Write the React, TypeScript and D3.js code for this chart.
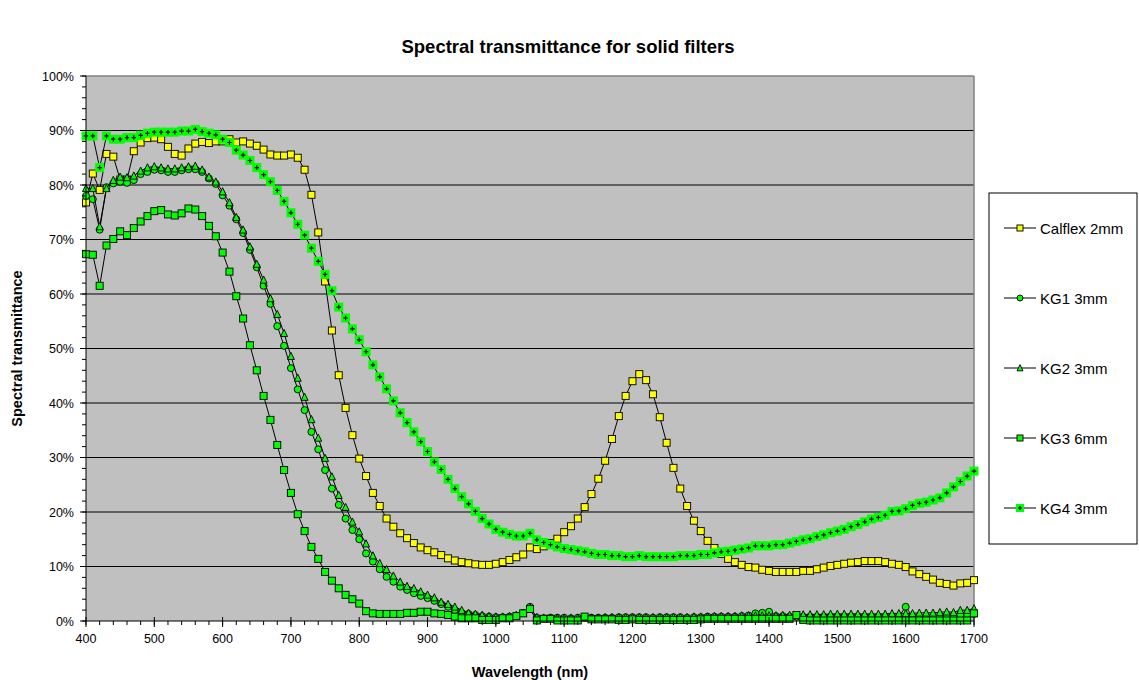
import React from "react";
import * as d3 from "d3";

const wavelengths: number[] = d3.range(400, 1701, 10);

const calflex: number[] = [
  76.8, 82.1, 79.1, 85.7, 85.2, 81.0, 81.0, 86.2, 87.8, 88.6,
  88.7, 88.4, 87.0, 85.7, 85.4, 86.7, 87.6, 87.9, 87.7, 88.0,
  88.0, 88.4, 87.8, 88.0, 87.6, 87.2, 86.5, 85.6, 85.4, 85.4,
  85.6, 85.0, 82.8, 78.2, 71.3, 62.3, 53.3, 45.1, 39.1, 34.1,
  29.8, 26.6, 23.5, 21.1, 18.8, 17.3, 16.1, 15.2, 14.3, 13.5,
  13.0, 12.6, 12.1, 11.5, 11.1, 10.8, 10.6, 10.4, 10.3, 10.3,
  10.5, 10.8, 11.2, 11.7, 12.2, 13.5, 13.2, 13.7, 14.3, 15.1,
  16.3, 17.4, 18.8, 20.9, 23.3, 26.1, 29.4, 33.4, 37.6, 41.3,
  44.0, 45.3, 44.2, 41.6, 37.4, 32.7, 28.1, 24.3, 21.1, 18.4,
  16.5, 14.7, 13.4, 12.3, 11.4, 10.8, 10.3, 9.9, 9.8, 9.4,
  9.2, 9.0, 9.0, 9.0, 9.0, 9.2, 9.2, 9.5, 9.8, 10.1,
  10.3, 10.5, 10.7, 10.8, 11.0, 11.0, 11.0, 10.8, 10.5, 10.3,
  9.9, 9.1, 8.6, 8.1, 7.6, 7.0, 6.8, 6.5, 6.9, 7.0,
  7.5,
];

const kg1: number[] = [
  78.0, 77.4, 71.8, 79.6, 80.3, 80.6, 80.4, 80.9, 82.0, 82.4,
  82.8, 82.7, 82.4, 82.4, 82.7, 82.9, 82.9, 82.4, 81.2, 80.2,
  78.1, 76.2, 73.7, 71.2, 68.1, 64.9, 61.5, 58.2, 54.1, 50.5,
  46.4, 42.5, 38.7, 34.7, 31.5, 27.7, 24.3, 21.3, 18.8, 16.7,
  15.0, 12.4, 10.9, 9.5, 8.1, 7.2, 6.3, 5.7, 5.1, 4.6,
  4.2, 3.7, 3.1, 2.6, 2.0, 1.5, 1.3, 1.1, 0.9, 0.8,
  0.7, 0.7, 0.8, 1.0, 1.5, 2.6, 0.6, 0.5, 0.6, 0.6,
  0.6, 0.5, 0.6, 0.6, 0.6, 0.6, 0.6, 0.6, 0.7, 0.7,
  0.7, 0.7, 0.7, 0.6, 0.7, 0.7, 0.7, 0.7, 0.6, 0.7,
  0.7, 0.8, 0.8, 0.8, 0.8, 0.8, 0.9, 1.0, 1.4, 1.5,
  1.7, 0.9, 0.9, 0.8, 0.8, 0.8, 0.8, 0.8, 0.8, 0.8,
  0.8, 0.8, 0.8, 0.8, 0.8, 0.8, 0.8, 0.8, 0.8, 0.8,
  2.6, 0.8, 0.8, 0.8, 0.8, 0.9, 1.0, 1.0, 1.2, 1.3,
  1.3,
];

const kg2: number[] = [
  79.4, 79.4, 72.4, 79.4, 80.9, 81.5, 81.4, 81.7, 82.6, 83.2,
  83.4, 83.2, 83.0, 83.0, 83.2, 83.4, 83.5, 82.8, 81.5, 80.6,
  78.8, 76.8, 74.1, 71.8, 68.7, 65.5, 62.6, 59.2, 56.3, 52.8,
  48.6, 44.6, 41.1, 37.0, 33.6, 29.9, 26.5, 23.1, 20.9, 18.2,
  16.4, 14.2, 12.0, 10.6, 9.5, 8.3, 7.2, 6.4, 6.0, 5.4,
  4.8, 4.3, 3.5, 3.1, 2.6, 2.0, 1.5, 1.3, 1.1, 0.9,
  0.8, 0.8, 0.9, 1.1, 1.5, 2.4, 0.7, 0.6, 0.6, 0.6,
  0.6, 0.6, 0.6, 0.6, 0.6, 0.6, 0.7, 0.7, 0.7, 0.7,
  0.7, 0.7, 0.7, 0.7, 0.7, 0.7, 0.7, 0.7, 0.7, 0.8,
  0.8, 0.8, 0.9, 0.9, 0.9, 0.9, 1.0, 1.0, 1.0, 1.0,
  1.0, 1.0, 1.1, 1.1, 1.1, 1.2, 1.2, 1.2, 1.2, 1.3,
  1.3, 1.3, 1.3, 1.3, 1.3, 1.3, 1.3, 1.3, 1.4, 1.4,
  1.4, 1.4, 1.5, 1.5, 1.5, 1.6, 1.7, 1.6, 2.0, 2.0,
  2.3,
];

const kg3: number[] = [
  67.3, 67.2, 61.5, 68.9, 70.1, 71.5, 70.8, 72.1, 73.3, 74.3,
  75.2, 75.4, 74.6, 74.4, 74.8, 75.7, 75.5, 74.3, 72.5, 70.6,
  67.6, 64.1, 59.6, 55.5, 50.6, 46.0, 41.3, 36.9, 32.3, 27.7,
  23.5, 19.6, 16.5, 13.6, 11.4, 9.0, 7.4, 6.0, 4.8, 4.0,
  3.2, 1.8, 1.4, 1.3, 1.3, 1.3, 1.3, 1.5, 1.5, 1.7,
  1.7, 1.4, 1.3, 1.1, 0.8, 0.5, 0.5, 0.5, 0.2, 0.2,
  0.2, 0.5, 0.5, 0.9, 1.4, 2.2, 0.1, 0.4, 0.4, 0.1,
  0.1, 0.1, 0.1, 0.8, 0.3, 0.3, 0.3, 0.3, 0.2, 0.2,
  0.3, 0.2, 0.2, 0.2, 0.2, 0.2, 0.2, 0.2, 0.2, 0.2,
  0.3, 0.4, 0.4, 0.4, 0.4, 0.4, 0.4, 0.4, 0.4, 0.4,
  0.4, 0.4, 0.4, 0.4, 1.1, 0.2, 0.1, 0.1, 0.1, 0.1,
  0.1, 0.1, 0.1, 0.1, 0.1, 0.1, 0.1, 0.1, 0.1, 0.1,
  0.1, 0.1, 0.1, 0.1, 0.1, 0.1, 0.1, 0.1, 0.1, 0.1,
  1.4,
];

const kg4: number[] = [
  89.0, 89.0, 83.2, 89.0, 88.4, 88.4, 88.7, 88.7, 89.1, 89.5,
  89.7, 89.7, 89.7, 89.7, 89.9, 89.9, 90.2, 89.8, 89.5, 89.2,
  88.4, 87.8, 86.4, 85.5, 84.5, 83.2, 81.9, 80.6, 79.0, 77.0,
  74.9, 72.8, 70.8, 68.4, 66.0, 63.6, 60.6, 57.6, 55.6, 53.6,
  51.6, 49.4, 47.0, 44.8, 42.6, 40.4, 38.2, 36.4, 34.7, 32.9,
  31.1, 29.2, 27.8, 26.0, 24.3, 22.8, 21.5, 20.1, 18.8, 17.8,
  16.8, 16.3, 15.9, 15.6, 15.6, 16.1, 14.9, 14.4, 14.0, 13.6,
  13.3, 13.1, 12.9, 12.7, 12.4, 12.2, 12.2, 12.0, 12.0, 11.8,
  11.8, 12.0, 11.8, 11.8, 11.8, 11.8, 11.8, 12.0, 12.0, 12.0,
  12.2, 12.2, 12.5, 12.7, 12.8, 13.0, 13.2, 13.4, 13.8, 13.8,
  13.8, 14.0, 14.0, 14.3, 14.6, 14.9, 15.1, 15.5, 15.8, 16.2,
  16.5, 16.8, 17.3, 17.7, 18.2, 18.7, 19.0, 19.4, 20.1, 20.2,
  20.6, 21.2, 21.6, 21.8, 22.2, 22.6, 23.5, 24.6, 25.6, 26.6,
  27.5,
];

const seriesNames: string[] = ["Calflex 2mm", "KG1 3mm", "KG2 3mm", "KG3 6mm", "KG4 3mm"];
const seriesData: number[][] = [calflex, kg1, kg2, kg3, kg4];
const seriesShapes: string[] = ["square", "circle", "triangle", "square", "plus"];
const seriesFills: string[] = ["#FFFF00", "#00FF00", "#00FF00", "#00FF00", "#00FF00"];

const xTicks: number[] = d3.range(400, 1701, 100);
const yTicks: number[] = d3.range(0, 101, 10);

const W = 1139;
const H = 680;
const M = { left: 86, right: 974, top: 76, bottom: 621 };
const FONT = "Arial, 'Liberation Sans', Helvetica, sans-serif";

function Marker({ shape, fill, x, y, size }: { shape: string; fill: string; x: number; y: number; size: number }) {
  const s = size;
  if (shape === "square") {
    return <rect x={x - s / 2} y={y - s / 2} width={s} height={s} fill={fill} stroke="#111" strokeWidth={1} />;
  }
  if (shape === "circle") {
    return <circle cx={x} cy={y} r={s / 2} fill={fill} stroke="#111" strokeWidth={1} />;
  }
  if (shape === "triangle") {
    const h = s * 0.95;
    return (
      <path
        d={`M${x},${y - h / 2 - 0.5}L${x + s / 2},${y + h / 2}L${x - s / 2},${y + h / 2}Z`}
        fill={fill}
        stroke="#111"
        strokeWidth={1}
      />
    );
  }
  const b = s + 2;
  const a = s * 0.32;
  return (
    <g>
      <rect x={x - b / 2} y={y - b / 2} width={b} height={b} fill={fill} />
      <path d={`M${x - a},${y}H${x + a}M${x},${y - a}V${y + a}`} stroke="#000" strokeWidth={1.2} />
    </g>
  );
}

export default function App() {
  const x = d3.scaleLinear().domain([400, 1700]).range([M.left, M.right]);
  const y = d3.scaleLinear().domain([0, 100]).range([M.bottom, M.top]);
  const line = d3
    .line<number>()
    .x((_, i) => x(wavelengths[i]))
    .y((d) => y(d));

  const minorX = d3.range(400, 1701, 20);
  const minorY = d3.range(0, 101, 2);

  const legendY = [228, 298, 368, 438, 508];

  return (
    <svg
      width={W}
      height={H}
      style={{ position: "absolute", left: 0, top: 0, background: "#fff" }}
      fontFamily={FONT}
    >
      <text x={568} y={53} textAnchor="middle" fontSize={18.5} fontWeight="bold">
        Spectral transmittance for solid filters
      </text>

      <rect x={M.left} y={M.top} width={M.right - M.left} height={M.bottom - M.top} fill="#C0C0C0" />
      {yTicks
        .filter((t) => t > 0 && t < 100)
        .map((t) => (
          <line key={t} x1={M.left} x2={M.right} y1={y(t)} y2={y(t)} stroke="#000" strokeWidth={1} />
        ))}
      <line x1={M.left} x2={M.right} y1={M.top} y2={M.top} stroke="#808080" strokeWidth={1.5} />
      <line x1={M.right} x2={M.right} y1={M.top} y2={M.bottom} stroke="#808080" strokeWidth={1.5} />

      {seriesData.map((data, si) => (
        <g key={si}>
          <path d={line(data) || ""} fill="none" stroke="#000" strokeWidth={1} />
          {data.map((v, i) => (
            <Marker
              key={i}
              shape={seriesShapes[si]}
              fill={seriesFills[si]}
              x={x(wavelengths[i])}
              y={y(v)}
              size={7}
            />
          ))}
        </g>
      ))}

      <line x1={M.left} x2={M.left} y1={M.top} y2={M.bottom} stroke="#000" strokeWidth={1} />
      <line x1={M.left} x2={M.right} y1={M.bottom} y2={M.bottom} stroke="#000" strokeWidth={1} />
      {minorY.map((t) => (
        <line key={"my" + t} x1={M.left - 4} x2={M.left} y1={y(t)} y2={y(t)} stroke="#000" />
      ))}
      {yTicks.map((t) => (
        <line key={"My" + t} x1={M.left - 6} x2={M.left} y1={y(t)} y2={y(t)} stroke="#000" />
      ))}
      {minorX.map((t) => (
        <line key={"mx" + t} x1={x(t)} x2={x(t)} y1={M.bottom} y2={M.bottom + 4} stroke="#000" />
      ))}
      {xTicks.map((t) => (
        <line key={"Mx" + t} x1={x(t)} x2={x(t)} y1={M.bottom - 4} y2={M.bottom + 6} stroke="#000" />
      ))}
      {yTicks.map((t) => (
        <text key={"yl" + t} x={M.left - 12} y={y(t) + 4.5} textAnchor="end" fontSize={12.5}>
          {t + "%"}
        </text>
      ))}
      {xTicks.map((t) => (
        <text key={"xl" + t} x={x(t)} y={M.bottom + 22} textAnchor="middle" fontSize={12.5}>
          {t}
        </text>
      ))}
      <text x={530} y={677} textAnchor="middle" fontSize={14.5} fontWeight="bold">
        Wavelength (nm)
      </text>
      <text
        transform={`translate(22,${(M.top + M.bottom) / 2}) rotate(-90)`}
        textAnchor="middle"
        fontSize={14.5}
        fontWeight="bold"
      >
        Spectral transmittance
      </text>

      <rect x={989} y={193} width={148} height={351} fill="#fff" stroke="#000" strokeWidth={1} />
      {seriesNames.map((n, i) => (
        <g key={n}>
          <line x1={1004} x2={1036} y1={legendY[i]} y2={legendY[i]} stroke="#000" />
          <Marker shape={seriesShapes[i]} fill={seriesFills[i]} x={1020} y={legendY[i]} size={6} />
          <text x={1040} y={legendY[i] + 5.5} fontSize={15}>
            {n}
          </text>
        </g>
      ))}
    </svg>
  );
}
